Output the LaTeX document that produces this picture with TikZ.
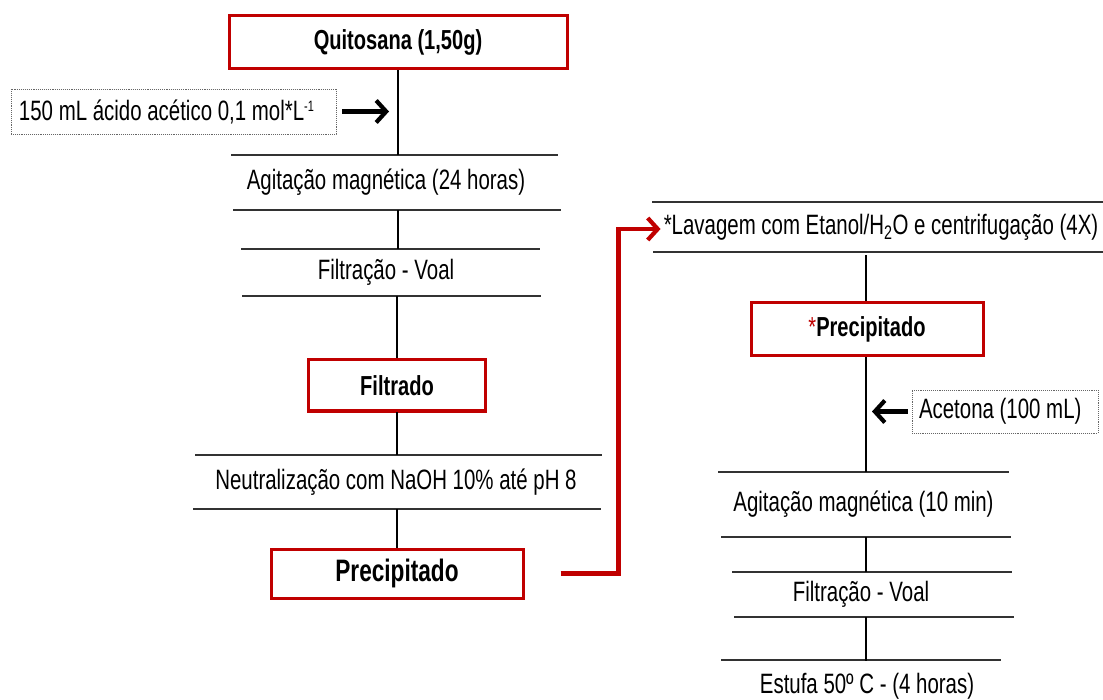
\documentclass[tikz,border=0pt]{standalone}
\usepackage{fontspec}
\setmainfont{Liberation Sans}[FakeStretch=0.73]
\usetikzlibrary{arrows.meta}
\definecolor{boxred}{RGB}{192,0,0}
\definecolor{rulegray}{RGB}{50,50,50}
\newcommand\regtext{\fontsize{28}{32}\selectfont}
\newcommand\boldtext{\bfseries\fontsize{27.5}{32}\selectfont}
\newcommand\bigboldtext{\bfseries\fontsize{31}{36}\selectfont}
\newcommand\smallsup[1]{\raisebox{9pt}{\fontsize{15}{15}\selectfont #1}}
\begin{document}
\begin{tikzpicture}[x=1pt,y=-1pt,
  redbox/.style={draw=boxred, line width=3pt, inner sep=0pt, font=\boldtext},
  addbox/.style={draw=gray!80!black, densely dotted, line width=0.9pt, inner sep=0pt, font=\regtext},
  stage/.style={inner sep=0pt, font=\regtext},
  rule/.style={draw=rulegray, line width=1.8pt},
  link/.style={draw=black, line width=2.4pt},
  blackarrow/.style={draw=black, line width=4.2pt, -{Straight Barb[length=10pt,width=22pt]}},
  redarrow/.style={draw=boxred, line width=4.2pt, -{Straight Barb[length=10pt,width=22pt]}}]
\useasboundingbox (0,0) rectangle (1103,700);

% ---- left column ----
\node[redbox, minimum width=338pt, minimum height=53pt] (quit) at (398,42.5) {Quitosana (1,50g)};
\node[addbox, minimum width=325pt, minimum height=45pt] (acid) at (173.5,111.5)
  {\makebox[309pt][l]{150 mL ácido acético 0,1 mol*L\smallsup{-1}}};

\node[stage, minimum height=55pt] (agit1) at (386,182.5) {Agitação magnética (24 horas)};
\draw[rule] (231,155) -- (558,155);
\draw[rule] (233,210) -- (561,210);

\node[stage, minimum height=47pt] (filt1) at (386,272.5) {Filtração - Voal};
\draw[rule] (241,249) -- (540,249);
\draw[rule] (242,296) -- (541,296);

\node[redbox, minimum width=177pt, minimum height=51pt] (filtrado) at (397,385.5) {Filtrado};

\node[stage, minimum height=54pt] (neut) at (396,482) {Neutralização com NaOH 10\% até pH 8};
\draw[rule] (195,455) -- (602,455);
\draw[rule] (193,509) -- (601,509);

\node[redbox, font=\bigboldtext, minimum width=252pt, minimum height=49pt] (prec) at (397,573.5) {Precipitado};

\draw[link] (quit.south) -- (quit.south |- agit1.north);
\draw[link] (agit1.south -| quit.south) -- (filt1.north -| quit.south);
\draw[link] (filt1.south -| filtrado.north) -- (filtrado.north);
\draw[link] (filtrado.south) -- (filtrado.south |- neut.north);
\draw[link] (neut.south -| prec.north) -- (prec.north);
\draw[blackarrow, shorten <=6pt, shorten >=9pt] (acid.east) -- (acid.east -| quit.south);

% ---- right column ----
\node[stage, minimum height=50pt] (lav) at (881,227)
  {*Lavagem com Etanol/H\textsubscript{2}O e centrifugação (4X)};
\draw[rule] (652,202) -- (1103,202);
\draw[rule] (653,252) -- (1103,252);

\node[redbox, minimum width=232pt, minimum height=53pt] (prec2) at (867,329.5)
  {\textcolor{boxred}{\mdseries*}Precipitado};

\node[addbox, minimum width=186pt, minimum height=43pt] (acet) at (1005,411.5)
  {\makebox[172pt][l]{Acetona (100 mL)}};

\node[stage, minimum height=65pt] (agit2) at (863.5,504.5) {Agitação magnética (10 min)};
\draw[rule] (718,472) -- (1009,472);
\draw[rule] (721,537) -- (1011,537);

\node[stage, minimum height=45pt] (filt2) at (861,594.5) {Filtração - Voal};
\draw[rule] (732,572) -- (1012,572);
\draw[rule] (734,617) -- (1014,617);

\node[stage, minimum height=50pt] (estufa) at (867,686) {Estufa 50º C - (4 horas)};
\draw[rule] (721,660) -- (1001,660);

\coordinate (col2) at (866,0);
\draw[link] (lav.south -| col2) ++(0,3) -- (prec2.north -| col2);
\draw[link] (prec2.south -| col2) -- (agit2.north -| col2);
\draw[link] (agit2.south -| col2) -- (filt2.north -| col2);
\draw[link] (filt2.south -| col2) -- (estufa.north -| col2);
\draw[blackarrow, shorten <=4pt, shorten >=6pt] (acet.west) -- (acet.west -| col2);

% ---- transfer from the first precipitate to the washing step ----
\draw[redarrow] ([xshift=36pt]prec.east) -- ([xshift=94pt]prec.east) |- ([xshift=-3pt,yshift=-2pt]lav.west);
\end{tikzpicture}
\end{document}
